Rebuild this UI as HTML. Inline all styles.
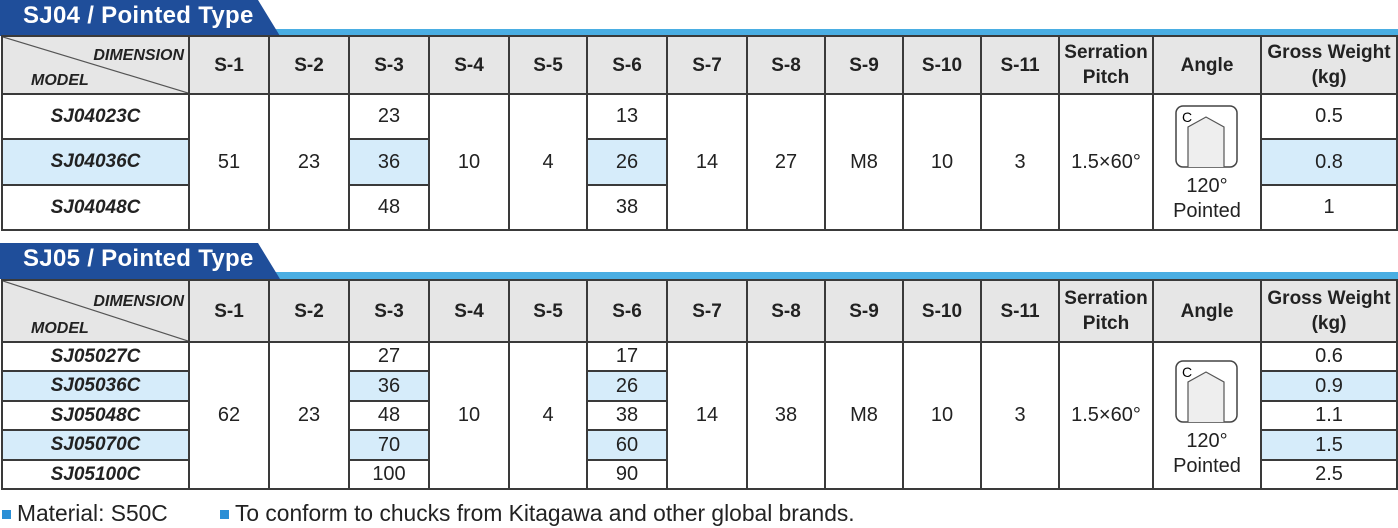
<!DOCTYPE html>
<html><head><meta charset="utf-8"><style>
body{margin:0;width:1398px;height:528px;background:#fff;position:relative;overflow:hidden;font-family:"Liberation Sans",sans-serif;color:#222}
.tab{position:absolute;left:0;height:36px;}
.tab .bar{position:absolute;left:0;right:0;bottom:0;height:7px;background:#4aaee3}
.tab .dark{position:absolute;left:0;top:0;width:280px;height:36px;background:#1f4e9a;clip-path:polygon(0 0,258px 0,280px 36px,0 36px)}
.tab .t{position:absolute;left:23px;top:2px;font-size:24px;font-weight:bold;color:#fff;letter-spacing:0.3px}
table{position:absolute;left:1px;border-collapse:collapse;table-layout:fixed;width:1396px}
td{border:2px solid #3a3a3a;text-align:center;font-size:20px;padding:0;}
.h td{background:#e6e6e6;font-weight:bold;font-size:19px;line-height:25px}
.m{font-weight:bold;font-style:italic;font-size:19px}
.b{background:#d6ecfa}
.foot{position:absolute;top:500px;font-size:22.8px}
.sq{display:inline-block;width:9px;height:9px;background:#2a8fd6;margin-right:6px;vertical-align:2px}
</style></head><body>
<div class="tab" style="top:0;width:1398px"><div class="bar"></div><div class="dark"></div><div class="t">SJ04 / Pointed Type</div></div>
<table style="top:35px">
<colgroup><col style="width:187px"><col style="width:80px"><col style="width:80px"><col style="width:80px"><col style="width:80px"><col style="width:78px"><col style="width:80px"><col style="width:80px"><col style="width:78px"><col style="width:78px"><col style="width:78px"><col style="width:78px"><col style="width:94px"><col style="width:108px"><col style="width:136px"></colgroup>
<tr class="h" style="height:58px"><td style="position:relative"><svg width="185" height="56" style="position:absolute;left:0;top:0"><line x1="0" y1="0" x2="185" y2="56" stroke="#555" stroke-width="1.2"/></svg><span style="position:absolute;right:4px;top:6px;font-style:italic;font-size:16px">DIMENSION</span><span style="position:absolute;left:28px;top:31px;font-style:italic;font-size:16px">MODEL</span></td><td>S-1</td><td>S-2</td><td>S-3</td><td>S-4</td><td>S-5</td><td>S-6</td><td>S-7</td><td>S-8</td><td>S-9</td><td>S-10</td><td>S-11</td><td>Serration<br>Pitch</td><td>Angle</td><td>Gross Weight<br>(kg)</td></tr>
<tr style="height:45px"><td class="m">SJ04023C</td><td rowspan="3">51</td><td rowspan="3">23</td><td>23</td><td rowspan="3">10</td><td rowspan="3">4</td><td>13</td><td rowspan="3">14</td><td rowspan="3">27</td><td rowspan="3">M8</td><td rowspan="3">10</td><td rowspan="3">3</td><td rowspan="3">1.5×60°</td><td rowspan="3" style="vertical-align:top;position:relative"><svg width="64" height="64" style="position:absolute;left:21px;top:10px"><rect x="1" y="1" width="61" height="61" rx="7" fill="#fff" stroke="#444" stroke-width="1.5"/><text x="7" y="17" font-size="14" font-family="Liberation Sans">C</text><path d="M13 62 V22 L31 12 L49 22 V62" fill="#eee" stroke="#555" stroke-width="1.2"/></svg><div style="position:absolute;left:0;right:0;top:79px;line-height:25px">120°<br>Pointed</div></td><td>0.5</td></tr>
<tr style="height:46px"><td class="m b">SJ04036C</td><td class="b">36</td><td class="b">26</td><td class="b">0.8</td></tr>
<tr style="height:45px"><td class="m">SJ04048C</td><td>48</td><td>38</td><td>1</td></tr>
</table>
<div class="tab" style="top:243px;width:1398px"><div class="bar"></div><div class="dark"></div><div class="t">SJ05 / Pointed Type</div></div>
<table style="top:279px">
<colgroup><col style="width:187px"><col style="width:80px"><col style="width:80px"><col style="width:80px"><col style="width:80px"><col style="width:78px"><col style="width:80px"><col style="width:80px"><col style="width:78px"><col style="width:78px"><col style="width:78px"><col style="width:78px"><col style="width:94px"><col style="width:108px"><col style="width:136px"></colgroup>
<tr class="h" style="height:62px"><td style="position:relative"><svg width="185" height="60" style="position:absolute;left:0;top:0"><line x1="0" y1="0" x2="185" y2="60" stroke="#555" stroke-width="1.2"/></svg><span style="position:absolute;right:4px;top:8px;font-style:italic;font-size:16px">DIMENSION</span><span style="position:absolute;left:28px;top:35px;font-style:italic;font-size:16px">MODEL</span></td><td>S-1</td><td>S-2</td><td>S-3</td><td>S-4</td><td>S-5</td><td>S-6</td><td>S-7</td><td>S-8</td><td>S-9</td><td>S-10</td><td>S-11</td><td>Serration<br>Pitch</td><td>Angle</td><td>Gross Weight<br>(kg)</td></tr>
<tr style="height:29px"><td class="m">SJ05027C</td><td rowspan="5">62</td><td rowspan="5">23</td><td>27</td><td rowspan="5">10</td><td rowspan="5">4</td><td>17</td><td rowspan="5">14</td><td rowspan="5">38</td><td rowspan="5">M8</td><td rowspan="5">10</td><td rowspan="5">3</td><td rowspan="5">1.5×60°</td><td rowspan="5" style="vertical-align:top;position:relative"><svg width="64" height="64" style="position:absolute;left:21px;top:17px"><rect x="1" y="1" width="61" height="61" rx="7" fill="#fff" stroke="#444" stroke-width="1.5"/><text x="7" y="17" font-size="14" font-family="Liberation Sans">C</text><path d="M13 62 V22 L31 12 L49 22 V62" fill="#eee" stroke="#555" stroke-width="1.2"/></svg><div style="position:absolute;left:0;right:0;top:86px;line-height:25px">120°<br>Pointed</div></td><td>0.6</td></tr>
<tr style="height:30px"><td class="m b">SJ05036C</td><td class="b">36</td><td class="b">26</td><td class="b">0.9</td></tr>
<tr style="height:29px"><td class="m">SJ05048C</td><td>48</td><td>38</td><td>1.1</td></tr>
<tr style="height:30px"><td class="m b">SJ05070C</td><td class="b">70</td><td class="b">60</td><td class="b">1.5</td></tr>
<tr style="height:29px"><td class="m">SJ05100C</td><td>100</td><td>90</td><td>2.5</td></tr>
</table>
<div class="foot" style="left:2px"><span class="sq"></span>Material: S50C</div>
<div class="foot" style="left:220px"><span class="sq"></span>To conform to chucks from Kitagawa and other global brands.</div>
</body></html>
